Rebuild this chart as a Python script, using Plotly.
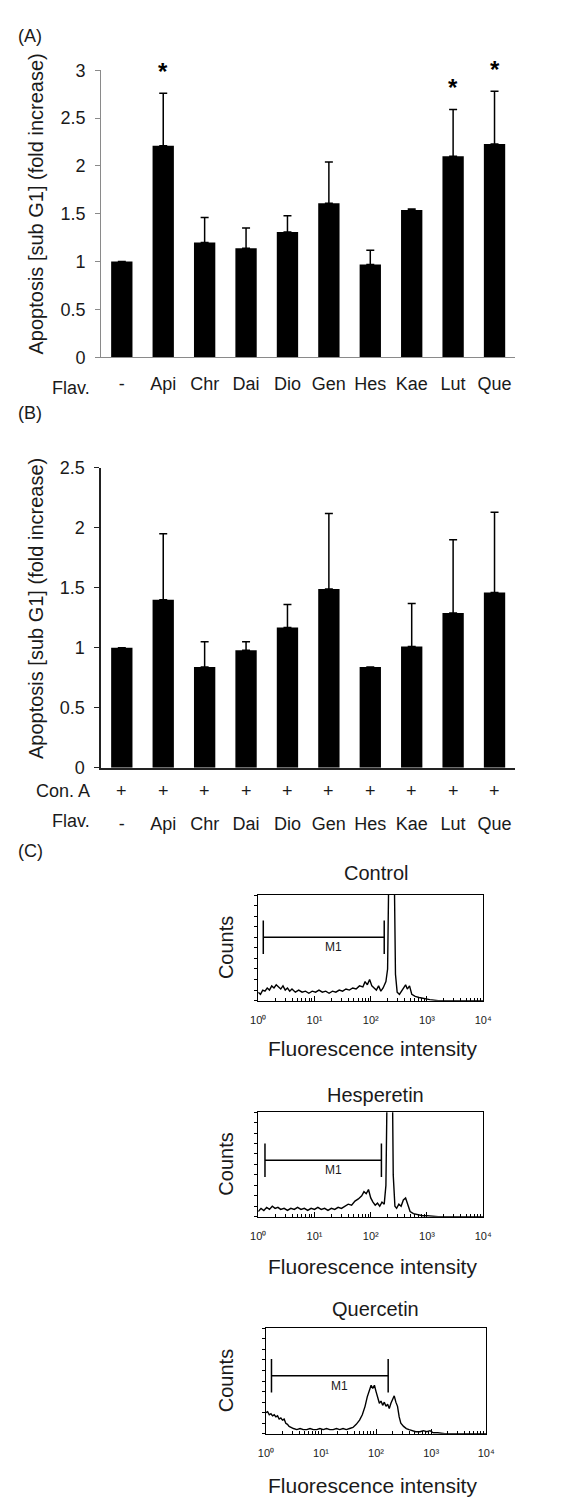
import plotly.graph_objects as go
import numpy as np

W, H = 564, 1504
FONT = "Arial, Liberation Sans, sans-serif"
INK = "#1a1a1a"

# ---- Panels A and B: sub-G1 apoptosis (fold increase over control) ----
flavonoids = ["-", "Api", "Chr", "Dai", "Dio", "Gen", "Hes", "Kae", "Lut", "Que"]

apop_a = [1.00, 2.21, 1.20, 1.14, 1.31, 1.61, 0.97, 1.54, 2.10, 2.23]
sd_a = [0.00, 0.55, 0.26, 0.21, 0.17, 0.43, 0.15, 0.01, 0.49, 0.55]
signif_a = ["Api", "Lut", "Que"]

apop_b = [1.00, 1.40, 0.84, 0.98, 1.17, 1.49, 0.84, 1.01, 1.29, 1.46]
sd_b = [0.00, 0.55, 0.21, 0.07, 0.19, 0.63, 0.00, 0.36, 0.61, 0.67]
con_a = ["+", "+", "+", "+", "+", "+", "+", "+", "+", "+"]

# ---- Panel C: DNA-content histograms (log10 fluorescence, relative counts) ----
ctrl_log = [0.00, 0.04, 0.08, 0.12, 0.16, 0.20, 0.24, 0.28, 0.32, 0.36, 0.40, 0.44,
            0.48, 0.52, 0.56, 0.60, 0.66, 0.72, 0.78, 0.84, 0.90, 0.96, 1.02, 1.08,
            1.14, 1.20, 1.26, 1.32, 1.38, 1.44, 1.50, 1.56, 1.62, 1.68, 1.74, 1.80,
            1.86, 1.90, 1.94, 1.98, 2.02, 2.06, 2.10, 2.14, 2.18, 2.22, 2.27, 2.30,
            2.33, 2.37, 2.41, 2.44, 2.47, 2.51, 2.55, 2.59, 2.62, 2.65, 2.69, 2.73,
            2.79, 2.86, 2.94, 3.05, 3.20, 4.00]
ctrl_cnt = [8, 6, 10, 9, 12, 10, 14, 12, 15, 13, 11, 14,
            10, 12, 9, 11, 8, 10, 8, 9, 7, 9, 8, 10,
            8, 9, 7, 9, 8, 10, 9, 11, 10, 12, 11, 14,
            13, 18, 15, 20, 14, 12, 10, 14, 9, 12, 18, 30,
            160, 160, 160, 25, 8, 6, 9, 13, 15, 11, 14, 6,
            4, 3, 2, 1, 0, 0]
ctrl_m1 = [0.09, 2.24]
ctrl_m1_level = 60

hesp_log = [0.00, 0.05, 0.10, 0.15, 0.20, 0.25, 0.30, 0.35, 0.40, 0.46, 0.52, 0.58,
            0.64, 0.70, 0.76, 0.82, 0.88, 0.94, 1.00, 1.06, 1.12, 1.18, 1.24, 1.30,
            1.36, 1.42, 1.48, 1.54, 1.60, 1.66, 1.72, 1.78, 1.84, 1.88, 1.92, 1.96,
            2.00, 2.04, 2.08, 2.12, 2.16, 2.20, 2.24, 2.27, 2.30, 2.34, 2.38, 2.40,
            2.43, 2.46, 2.50, 2.54, 2.58, 2.62, 2.66, 2.70, 2.76, 2.84, 2.92, 3.00,
            3.20, 4.00]
hesp_cnt = [5, 8, 6, 9, 7, 10, 8, 9, 7, 8, 6, 8,
            7, 9, 7, 8, 6, 8, 7, 9, 7, 8, 6, 8,
            7, 9, 8, 10, 12, 11, 15, 17, 20, 24, 22, 26,
            18, 14, 11, 13, 10, 14, 12, 30, 160, 160, 160, 40,
            10, 8, 12, 10, 16, 18, 12, 5, 3, 2, 1, 1,
            0, 0]
hesp_m1 = [0.12, 2.19]
hesp_m1_level = 54

quer_log = [0.00, 0.03, 0.06, 0.09, 0.12, 0.15, 0.18, 0.21, 0.24, 0.27, 0.30, 0.33,
            0.36, 0.39, 0.42, 0.45, 0.50, 0.56, 0.62, 0.68, 0.74, 0.80, 0.86, 0.92,
            0.98, 1.04, 1.10, 1.16, 1.22, 1.28, 1.34, 1.40, 1.46, 1.52, 1.58, 1.64,
            1.70, 1.75, 1.80, 1.84, 1.88, 1.91, 1.94, 1.97, 2.00, 2.03, 2.06, 2.09,
            2.12, 2.15, 2.18, 2.21, 2.24, 2.27, 2.30, 2.33, 2.36, 2.39, 2.42, 2.45,
            2.50, 2.55, 2.60, 2.66, 2.72, 2.80, 2.86, 2.92, 2.98, 3.04, 3.12, 3.25,
            4.00]
quer_cnt = [20, 21, 18, 19, 17, 18, 16, 17, 14, 15, 13, 14,
            10, 9, 7, 6, 5, 4, 5, 4, 4, 5, 4, 4,
            5, 4, 5, 4, 4, 5, 4, 5, 4, 5, 6, 9,
            13, 18, 26, 35, 41, 46, 43, 46, 40, 34, 29, 31,
            27, 30, 26, 28, 24, 29, 33, 36, 30, 26, 16, 10,
            7, 5, 4, 3, 2, 2, 3, 2, 3, 1, 1, 0,
            0]
quer_m1 = [0.10, 2.22]
quer_m1_level = 55

decade_vals = [0, 1, 2, 3, 4]
decade_text = ["10\u2070", "10\u00b9", "10\u00b2", "10\u00b3", "10\u2074"]


def fx(px):
    return px / W


def fy(py):
    return 1 - py / H


fig = go.Figure()

# ---- bar panels ----
fig.add_trace(go.Bar(
    x=flavonoids, y=apop_a, xaxis="x", yaxis="y",
    marker=dict(color="black", line=dict(width=0)),
    error_y=dict(type="data", array=sd_a, arrayminus=[0] * len(sd_a), symmetric=False,
                 color="black", thickness=1.5, width=4),
    showlegend=False,
))
fig.add_trace(go.Bar(
    x=flavonoids, y=apop_b, xaxis="x2", yaxis="y2",
    marker=dict(color="black", line=dict(width=0)),
    error_y=dict(type="data", array=sd_b, arrayminus=[0] * len(sd_b), symmetric=False,
                 color="black", thickness=1.5, width=4),
    showlegend=False,
))

# ---- histograms ----
hist_sets = [
    ("x3", "y3", ctrl_log, ctrl_cnt, ctrl_m1, ctrl_m1_level),
    ("x4", "y4", hesp_log, hesp_cnt, hesp_m1, hesp_m1_level),
    ("x5", "y5", quer_log, quer_cnt, quer_m1, quer_m1_level),
]
for xa, ya, lx, cnt, m1, lvl in hist_sets:
    fig.add_trace(go.Scatter(
        x=lx, y=cnt, xaxis=xa, yaxis=ya, mode="lines",
        line=dict(color="black", width=1.4), showlegend=False,
    ))
    fig.add_trace(go.Scatter(
        x=m1, y=[lvl, lvl], xaxis=xa, yaxis=ya, mode="lines+markers",
        line=dict(color="black", width=1.5),
        marker=dict(symbol="line-ns", size=24, line=dict(color="black", width=1.5)),
        showlegend=False,
    ))

bar_x = dict(type="category", showline=True, linecolor="#8a8a8a", linewidth=1,
             ticks="", showgrid=False, zeroline=False,
             tickfont=dict(size=18, color=INK, family=FONT), range=[-0.5, 9.5])
bar_y = dict(showline=True, linecolor="#8a8a8a", linewidth=1, ticks="outside",
             ticklen=5, tickcolor="#8a8a8a", showgrid=False, zeroline=False,
             dtick=0.5, tickfont=dict(size=18, color=INK, family=FONT),
             ticklabelstandoff=6)

hist_x = dict(range=[0, 4], showline=True, mirror=True, linecolor="black",
              linewidth=1.2, ticks="inside", ticklen=5, tickcolor="black",
              tickvals=decade_vals, ticktext=decade_text, showgrid=False,
              zeroline=False, tickfont=dict(size=11, color=INK, family=FONT),
              ticklabelstandoff=9,
              minor=dict(ticks="inside", ticklen=3, tickcolor="black",
                         tickvals=[d + np.log10(k) for d in range(4) for k in range(2, 10)]))
hist_y = dict(range=[0, 100], showline=True, mirror=True, linecolor="black",
              linewidth=1.2, ticks="outside", ticklen=3, tickcolor="black",
              dtick=10, showticklabels=False, showgrid=False, zeroline=False)

layout = dict(
    width=W, height=H, margin=dict(l=0, r=0, t=0, b=0),
    paper_bgcolor="white", plot_bgcolor="white", bargap=0.485,
    font=dict(family=FONT, color=INK),
    xaxis=dict(bar_x, domain=[fx(96), fx(523)], anchor="y", ticklabelstandoff=10),
    yaxis=dict(bar_y, domain=[fy(352), fy(61)], anchor="x", range=[0, 3]),
    xaxis2=dict(bar_x, domain=[fx(96), fx(523)], anchor="y2", ticklabelstandoff=39,
                linecolor="#222", linewidth=1.5),
    yaxis2=dict(bar_y, domain=[fy(768), fy(464)], anchor="x2", range=[0, 2.5],
                linecolor="#222", linewidth=1.5, tickcolor="#222"),
    xaxis3=dict(hist_x, domain=[fx(258), fx(490)], anchor="y3"),
    yaxis3=dict(hist_y, domain=[fy(1004), fy(897)], anchor="x3"),
    xaxis4=dict(hist_x, domain=[fx(258), fx(490)], anchor="y4"),
    yaxis4=dict(hist_y, domain=[fy(1223), fy(1117)], anchor="x4"),
    xaxis5=dict(hist_x, domain=[fx(266), fx(493)], anchor="y5"),
    yaxis5=dict(hist_y, domain=[fy(1443), fy(1336)], anchor="x5"),
)
fig.update_layout(**layout)

ann = []


def text(t, px, py, size, **kw):
    d = dict(text=t, x=fx(px), y=fy(py), xref="paper", yref="paper", showarrow=False,
             font=dict(size=size, color=INK, family=FONT), xanchor="center", yanchor="middle")
    d.update(kw)
    ann.append(d)


# panel letters
text("(A)", 8, 26, 18, xanchor="left")
text("(B)", 8, 408, 18, xanchor="left")
text("(C)", 8, 852, 18, xanchor="left")

# y-axis titles of bar panels
ytitle = "Apoptosis [sub G1] (fold increase)"
text(ytitle, 29, 197, 20, textangle=-90)
text(ytitle, 29, 607, 20, textangle=-90)

# row headers under the bar panels
text("Flav.", 65, 383, 18)
text("Con. A", 57, 792, 18)
text("Flav.", 65, 822, 18)
for cat, sign in zip(flavonoids, con_a):
    ann.append(dict(text=sign, x=cat, y=fy(792), xref="x2", yref="paper", showarrow=False,
                    font=dict(size=18, color=INK, family=FONT), yanchor="middle"))

# significance marks
for cat, m, s in zip(flavonoids, apop_a, sd_a):
    if cat in signif_a:
        ann.append(dict(text="<b>*</b>", x=cat, y=m + s, xref="x", yref="y", showarrow=False,
                        font=dict(size=24, color="black", family=FONT), yanchor="bottom",
                        yshift=6))

# histogram titles and axis labels
for title, ty, top, bot, xl_y in [("Control", 875, 897, 1004, 1052),
                                  ("Hesperetin", 1100, 1117, 1223, 1273),
                                  ("Quercetin", 1317, 1336, 1443, 1495)]:
    text(title, 379, ty, 20)
    text("Counts", 225, (top + bot) / 2, 20, textangle=-90)
    text("Fluorescence intensity", 376, xl_y, 21)

# gate labels
for xa, ya, m1, lvl in [("x3", "y3", ctrl_m1, ctrl_m1_level),
                        ("x4", "y4", hesp_m1, hesp_m1_level),
                        ("x5", "y5", quer_m1, quer_m1_level)]:
    ann.append(dict(text="M1", x=(m1[0] + m1[1]) / 2, y=lvl, xref=xa, yref=ya,
                    showarrow=False, font=dict(size=12, color=INK, family=FONT),
                    yanchor="middle", xshift=10, yshift=-10))

fig.update_layout(annotations=ann)
fig.write_html("out.html")
